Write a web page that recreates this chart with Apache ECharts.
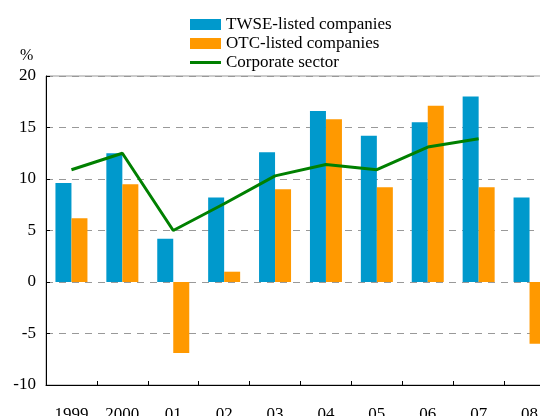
<!DOCTYPE html>
<html>
<head>
<meta charset="utf-8">
<script src="https://cdn.jsdelivr.net/npm/echarts@6/dist/echarts.min.js"></script>
<style>
  html, body { margin: 0; padding: 0; background: #fff; }
  #chart { width: 540px; height: 416px; }
</style>
</head>
<body>
<div id="chart"></div>
<script>
// data
const years = ['1999', '2000', '01', '02', '03', '04', '05', '06', '07', '08'];
const twse = [9.6, 12.5, 4.2, 8.2, 12.6, 16.6, 14.2, 15.5, 18.0, 8.2];
const otc = [6.2, 9.5, -6.9, 1.0, 9.0, 15.8, 9.2, 17.1, 9.2, -6.0];
const corporate = [10.9, 12.5, 5.0, 7.6, 10.3, 11.4, 10.9, 13.1, 13.9, null];

const serif = '"Liberation Serif", "DejaVu Serif", serif';

const chart = echarts.init(document.getElementById('chart'));
chart.setOption({
    animation: false,
    title: {
        text: '%',
        left: 15,
        top: 43,
        textStyle: { fontFamily: serif, fontSize: 16, fontWeight: 'normal', color: '#000' }
    },
    legend: {
        orient: 'vertical',
        left: 190,
        top: 16,
        padding: 0,
        itemWidth: 31,
        itemHeight: 11,
        itemGap: 2,
        textStyle: { fontFamily: serif, fontSize: 17, color: '#000', lineHeight: 17 },
        data: [
            { name: 'TWSE-listed companies', icon: 'rect' },
            { name: 'OTC-listed companies', icon: 'rect' },
            { name: 'Corporate sector', icon: 'path://M0,0 H31 V3 H0 Z' }
        ]
    },
    grid: {
        left: 46,
        top: 76,
        width: 509,
        height: 309,
        outerBoundsMode: 'none',
        show: true,
        borderColor: '#999',
        borderWidth: 1
    },
    xAxis: [
        {
            type: 'category',
            data: years,
            position: 'bottom',
            axisLine: { show: false },
            axisTick: { show: false },
            axisLabel: { margin: 21, fontFamily: serif, fontSize: 17, color: '#000' }
        },
        {
            type: 'category',
            data: years,
            position: 'bottom',
            axisLine: { show: true, onZero: true, lineStyle: { color: '#000', width: 1 } },
            axisTick: { show: true, inside: true, length: 4, lineStyle: { color: '#000' } },
            axisLabel: { show: false }
        }
    ],
    yAxis: {
        type: 'value',
        min: -10,
        max: 20,
        interval: 5,
        axisLine: { show: true, lineStyle: { color: '#000' } },
        axisTick: { show: true, inside: true, length: 4, lineStyle: { color: '#000' } },
        axisLabel: { fontFamily: serif, fontSize: 17, color: '#000', margin: 10 },
        splitLine: { show: true, lineStyle: { color: '#999', type: [7, 6] } }
    },
    series: [
        {
            name: 'TWSE-listed companies',
            type: 'bar',
            data: twse,
            barWidth: 16,
            barGap: '0%',
            itemStyle: { color: '#0099CC' }
        },
        {
            name: 'OTC-listed companies',
            type: 'bar',
            data: otc,
            barWidth: 16,
            barGap: '0%',
            itemStyle: { color: '#FF9900' }
        },
        {
            name: 'Corporate sector',
            type: 'line',
            data: corporate,
            symbol: 'none',
            lineStyle: { color: '#008000', width: 3 },
            itemStyle: { color: '#008000' },
            z: 5
        }
    ]
});
</script>
</body>
</html>
